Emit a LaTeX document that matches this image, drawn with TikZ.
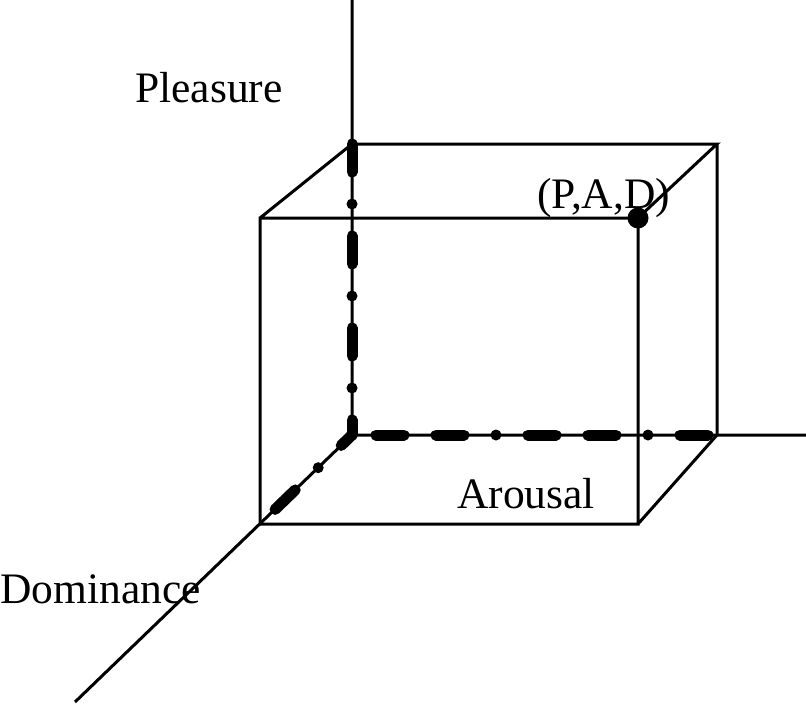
\documentclass[tikz,border=0pt]{standalone}
\usepackage{fontspec}
\setmainfont{Liberation Serif}
\usetikzlibrary{positioning,calc}

\begin{document}
\begin{tikzpicture}[x=1pt,y=-1pt,
		thin line/.style={line width=3pt},
		proj line/.style={line width=11pt, line cap=round},
		axis label/.style={anchor=base west, inner sep=0pt, font=\fontsize{43.5}{50}\selectfont}]
			\useasboundingbox (0,0) rectangle (806,704);
			% axes
			\coordinate (O) at (352,435);
			\coordinate (Ptop) at (352,0);
			\coordinate (Aend) at (806,435);
			\coordinate (Dend) at (75,702);
			% box corners
			\coordinate (B1) at (352,144);
			\coordinate (B2) at (717,144);
			\coordinate (B3) at (717,435);
			\coordinate (F1) at (260,218);
			\coordinate (F2) at (638,218);
			\coordinate (F3) at (638,524);
			\coordinate (F4) at (260,524);
			\draw[thin line] (Ptop) -- (O) -- (Aend) (O) -- (Dend);
			\draw[thin line] 
						(F1) rectangle (F3)
						(F1) -- (B1) -- (B2) -- (F2)
						(B2) -- (B3) -- (F3)
			;
			% projections of the point
			\draw[proj line, dash pattern=on 28pt off 32pt on 0pt off 32pt] (B1) -- (O);
			\draw[proj line, dash pattern=on 28pt off 32pt on 0pt off 32pt on 28pt off 32pt, dash phase=143pt] (B3) -- (O);
			\draw[proj line, dash pattern=on 28pt off 32pt on 0pt off 32pt, dash phase=13pt] (O) -- (F4);
			\fill (F2) circle (10.5);
			\node[axis label] (pad) at (537,208) {(P,A,D)};
			\node[axis label] (pleasure) at (135,102) {Pleasure};
			\node[axis label] (arousal) at (457,508) {Arousal};
			\node[axis label] (dominance) at (0,603) {Dominance};
%			\draw (F2) -- (B3);
		\end{tikzpicture}
\end{document}
